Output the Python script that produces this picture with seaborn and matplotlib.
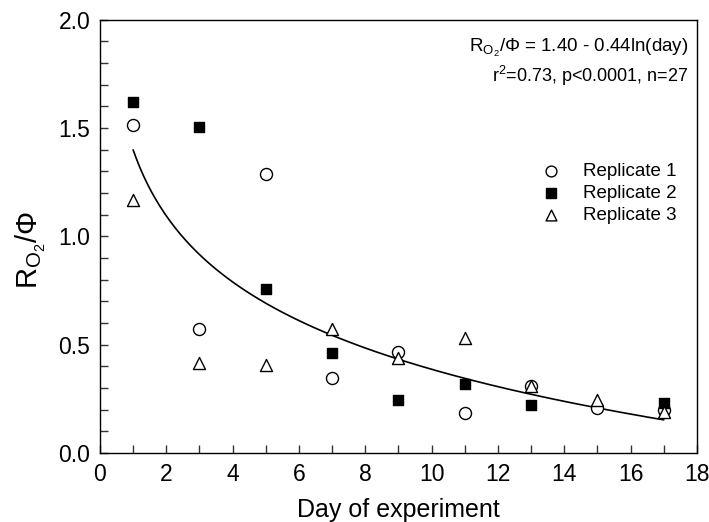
import numpy as np
import pandas as pd
import matplotlib
matplotlib.use("Agg")
import matplotlib.pyplot as plt
from matplotlib.ticker import MultipleLocator
import seaborn as sns

sns.set_theme(style="white")
plt.rcParams['font.family'] = ['Liberation Sans', 'DejaVu Sans']
plt.rcParams['mathtext.fontset'] = 'custom'
plt.rcParams['mathtext.rm'] = 'Liberation Sans'
plt.rcParams['mathtext.it'] = 'Liberation Sans:italic'
plt.rcParams['mathtext.bf'] = 'Liberation Sans:bold'
for k in ['text.color', 'axes.labelcolor', 'xtick.color', 'ytick.color']:
    plt.rcParams[k] = 'black'

# Data
days_r1 = [1, 3, 5, 7, 9, 11, 13, 15, 17]
rep1 = [1.515, 0.575, 1.29, 0.345, 0.465, 0.185, 0.31, 0.21, 0.20]
days_r2 = [1, 3, 5, 7, 9, 11, 13, 17]
rep2 = [1.62, 1.505, 0.757, 0.46, 0.245, 0.318, 0.222, 0.232]
days_r3 = [1, 3, 5, 7, 9, 11, 13, 15, 17]
rep3 = [1.17, 0.415, 0.405, 0.573, 0.44, 0.53, 0.31, 0.245, 0.19]

fit_a = 1.40
fit_b = 0.44
fit_day_min, fit_day_max = 1, 17

df = pd.concat([
    pd.DataFrame({"day": days_r1, "val": rep1, "rep": "Replicate 1"}),
    pd.DataFrame({"day": days_r2, "val": rep2, "rep": "Replicate 2"}),
    pd.DataFrame({"day": days_r3, "val": rep3, "rep": "Replicate 3"}),
])

fig = plt.figure(figsize=(7.09, 5.22), dpi=100)
ax = fig.add_axes([0.141, 0.132, 0.842, 0.830])

fit_x = np.linspace(fit_day_min, fit_day_max, 200)
fit_y = fit_a - fit_b * np.log(fit_x)
sns.lineplot(x=fit_x, y=fit_y, ax=ax, color='black', lw=1.2, zorder=1)

styles = {
    "Replicate 1": dict(marker='o', facecolor='white', edgecolor='black', s=75),
    "Replicate 2": dict(marker='s', facecolor='black', edgecolor='black', s=60),
    "Replicate 3": dict(marker='^', facecolor='white', edgecolor='black', s=75),
}
for rep, st in styles.items():
    sub = df[df.rep == rep]
    sns.scatterplot(data=sub, x="day", y="val", ax=ax, label=rep,
                    marker=st['marker'], facecolor=st['facecolor'],
                    edgecolor=st['edgecolor'], s=st['s'], linewidth=1.0, zorder=3)

ax.set_xlim(0, 18)
ax.set_ylim(0, 2.0)
ax.xaxis.set_major_locator(MultipleLocator(2))
ax.xaxis.set_minor_locator(MultipleLocator(1))
ax.yaxis.set_major_locator(MultipleLocator(0.5))
ax.yaxis.set_minor_locator(MultipleLocator(0.1))
ax.set_xticks(list(range(0, 19, 2)))
ax.set_xticklabels([str(v) for v in range(0, 19, 2)])
ax.set_yticks([0, 0.5, 1.0, 1.5, 2.0])
ax.set_yticklabels(["0.0", "0.5", "1.0", "1.5", "2.0"])
ax.tick_params(which='both', direction='in', length=6, width=1, color='#333333',
               bottom=True, left=True, top=False, right=False, labelsize=16.5, pad=7)
for sp in ax.spines.values():
    sp.set_color('black')
    sp.set_linewidth(1.0)

ax.set_xlabel("Day of experiment", fontsize=18, labelpad=9)
ax.set_ylabel(r"R$_{\mathrm{O}_2}$/Φ", fontsize=21)
ax.yaxis.set_label_coords(-0.087, 0.47)

ax.text(0.985, 0.935, r"R$_{\mathrm{O}_2}$/Φ = 1.40 - 0.44ln(day)", transform=ax.transAxes,
        ha='right', va='center', fontsize=13.5)
ax.text(0.985, 0.87, r"r$^2$=0.73, p<0.0001, n=27", transform=ax.transAxes,
        ha='right', va='center', fontsize=13)

leg = ax.legend(loc='upper right', bbox_to_anchor=(0.988, 0.70), frameon=False,
                fontsize=13.5, handletextpad=0.7, labelspacing=0.25, borderpad=0.2,
                markerscale=0.9)

fig.savefig("out.png", dpi=100)
